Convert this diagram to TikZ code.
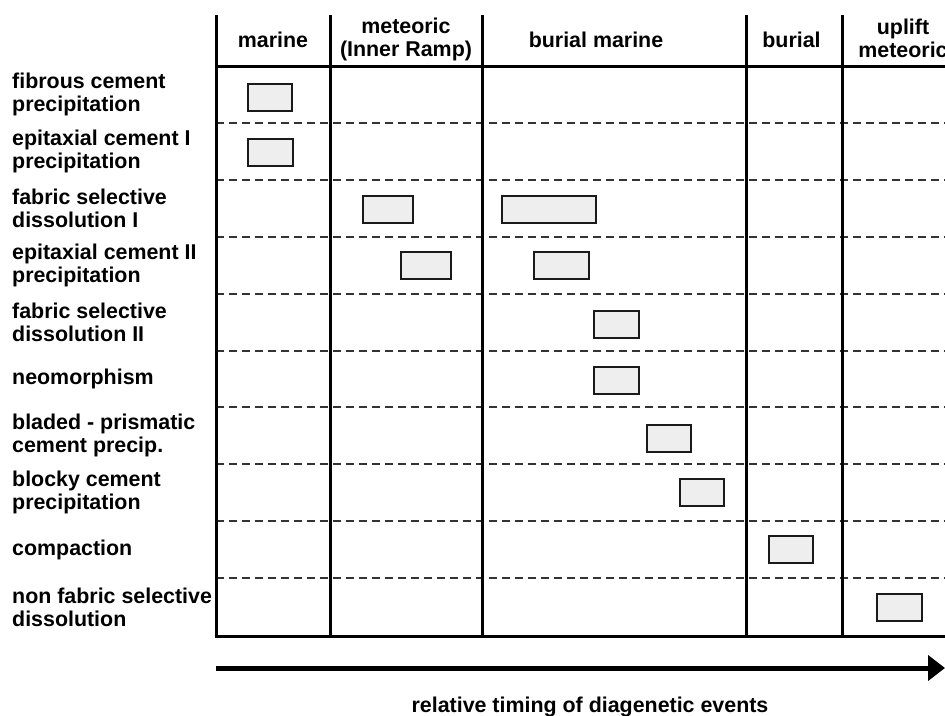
\documentclass[tikz,border=0pt]{standalone}
\usepackage{fontspec}
\setmainfont{Liberation Sans}
\usepackage{xcolor}
\usetikzlibrary{arrows.meta}
\definecolor{diagfill}{HTML}{EEEEEE}
\definecolor{diagedge}{HTML}{1A1A1A}
\definecolor{diagdash}{HTML}{333333}
\tikzset{
  eventlabel/.style={
    anchor=west,
    align=left,
    inner sep=0pt,
    font=\fontsize{21.4}{23}\selectfont\bfseries
  },
  stagelabel/.style={eventlabel, anchor=base, align=center},
  stagewide/.style={stagelabel, anchor=center},
  eventbox/.style={
    rectangle,
    draw=diagedge,
    fill=diagfill,
    line width=2pt,
    inner sep=0pt,
    minimum width=45pt,
    minimum height=27pt
  },
  stageline/.style={line width=3pt, draw=black},
  rowline/.style={line width=2pt, draw=diagdash, dash pattern=on 8pt off 5pt},
  timearrow/.style={-{Triangle[length=17pt, width=25pt]}, line width=5pt, draw=black}
}
\begin{document}
\begin{tikzpicture}[x=1pt, y=-1pt]
\useasboundingbox (0,0) rectangle (945,715);
% stage columns
\node[stagelabel] (s1) at (273,47) {marine};
\node[stagewide] (s2) at (406,39.5) {meteoric\\(Inner Ramp)};
\node[stagelabel] (s3) at (596,47) {burial marine};
\node[stagelabel] (s4) at (791.5,47) {burial};
\node[stagewide] (s5) at (903,38) {uplift\\meteoric};
% event rows
\node[eventlabel] (r1) at (12,94.5) {fibrous cement\\precipitation};
\node[eventlabel] (r2) at (12,151.5) {epitaxial cement I\\precipitation};
\node[eventlabel] (r3) at (12,208.5) {fabric selective\\dissolution I};
\node[eventlabel] (r4) at (12,265.5) {epitaxial cement II\\precipitation};
\node[eventlabel] (r5) at (12,322.5) {fabric selective\\dissolution II};
\node[eventlabel] (r6) at (12,379) {neomorphism};
\node[eventlabel] (r7) at (12,435.5) {bladed - prismatic\\cement precip.};
\node[eventlabel] (r8) at (12,492.5) {blocky cement\\precipitation};
\node[eventlabel] (r9) at (12,549.5) {compaction};
\node[eventlabel] (r10) at (12,607) {non fabric selective\\dissolution};
% grid
\draw[rowline] (216,123) -- (945,123);
\draw[rowline] (216,180) -- (945,180);
\draw[rowline] (216,237) -- (945,237);
\draw[rowline] (216,294) -- (945,294);
\draw[rowline] (216,351) -- (945,351);
\draw[rowline] (216,407) -- (945,407);
\draw[rowline] (216,464) -- (945,464);
\draw[rowline] (216,521) -- (945,521);
\draw[rowline] (216,578) -- (945,578);
\draw[stageline] (216,66) -- (945,66);
\draw[stageline] (214.5,636) -- (945,636);
\draw[stageline] (216,15) -- (216,636);
\draw[stageline] (330,15) -- (330,636);
\draw[stageline] (482,15) -- (482,636);
\draw[stageline] (746.5,15) -- (746.5,636);
\draw[stageline] (842,15) -- (842,636);
% event timing
\node[eventbox, minimum width=44pt] (b1) at (270,97) {};
\node[eventbox] (b2) at (270.5,152.5) {};
\node[eventbox, minimum width=50pt] (b3a) at (388,209) {};
\node[eventbox, minimum width=94pt] (b3b) at (549,209) {};
\node[eventbox, minimum width=50pt] (b4a) at (426,265) {};
\node[eventbox, minimum width=55pt] (b4b) at (561.5,265) {};
\node[eventbox] (b5) at (616.5,324) {};
\node[eventbox] (b6) at (616.5,380.5) {};
\node[eventbox, minimum width=44pt] (b7) at (669,438.5) {};
\node[eventbox, minimum width=44pt] (b8) at (702,492.5) {};
\node[eventbox, minimum width=44pt] (b9) at (791,549.5) {};
\node[eventbox] (b10) at (899.5,607) {};
% time axis
\coordinate (t0) at (216,668);
\coordinate (t1) at (945,668);
\draw[timearrow] (t0) -- (t1);
\node[stagelabel] (cap) at (590,712) {relative timing of diagenetic events};
\end{tikzpicture}
\end{document}
